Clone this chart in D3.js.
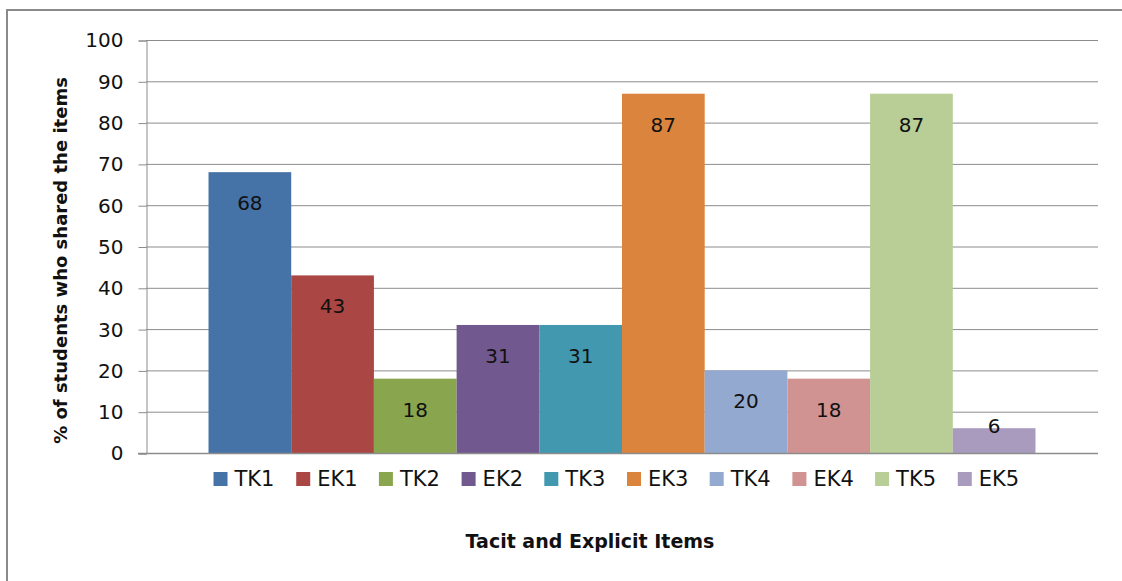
<!DOCTYPE html>
<html>
<head>
<meta charset="utf-8">
<script src="https://cdn.jsdelivr.net/npm/d3@7"></script>
<style>
  html, body { margin: 0; padding: 0; background: #fff; }
  svg { display: block; }
  text { font-family: "DejaVu Sans", "Liberation Sans", sans-serif; fill: #111; }
</style>
</head>
<body>
<svg id="chart" width="1122" height="581"></svg>
<script>
// Share of students (%) per tacit (TK) and explicit (EK) knowledge item
const items  = ["TK1", "EK1", "TK2", "EK2", "TK3", "EK3", "TK4", "EK4", "TK5", "EK5"];
const values = [68, 43, 18, 31, 31, 87, 20, 18, 87, 6];
const colors = ["#4572A7", "#AA4643", "#89A54E", "#71588F", "#4198AF",
                "#DB843D", "#93A9CF", "#D19392", "#B9CD96", "#A99BBD"];
const yTicks = [0, 10, 20, 30, 40, 50, 60, 70, 80, 90, 100];
const yTitle = "% of students who shared the items";
const xTitle = "Tacit and Explicit Items";

const svg = d3.select("#chart");
const W = 1122, H = 581;
const plot = { left: 146, right: 1098, top: 40, bottom: 453 };

// chart frame
svg.append("path")
  .attr("d", `M7,${H + 5} L7,10 L${W + 5},10`)
  .attr("fill", "none")
  .attr("stroke", "#8a8a8a")
  .attr("stroke-width", 2);

const x = d3.scaleBand()
  .domain(items)
  .range([plot.left, plot.right])
  .paddingInner(0)
  .paddingOuter(0.756);

const y = d3.scaleLinear()
  .domain([0, 100])
  .range([plot.bottom, plot.top]);

// gridlines
svg.append("g")
  .selectAll("line")
  .data(yTicks.filter(t => t > 0))
  .join("line")
  .attr("x1", plot.left).attr("x2", plot.right)
  .attr("y1", d => y(d) + 0.5).attr("y2", d => y(d) + 0.5)
  .attr("stroke", "#8c8c8c")
  .attr("stroke-width", 1);

// y axis
const yAxis = svg.append("g")
  .attr("transform", `translate(${plot.left + 0.5},0.5)`)
  .call(d3.axisLeft(y).tickValues(yTicks).tickSize(8).tickPadding(15).tickFormat(d3.format("d")));
yAxis.select(".domain").attr("stroke", "#8c8c8c");
yAxis.selectAll(".tick line").attr("stroke", "#8c8c8c");
yAxis.selectAll(".tick text")
  .attr("font-size", 20)
  .attr("font-family", "DejaVu Sans, sans-serif")
  .attr("fill", "#111");

// bars
svg.append("g")
  .selectAll("rect")
  .data(items)
  .join("rect")
  .attr("x", d => x(d))
  .attr("y", (d, i) => y(values[i]))
  .attr("width", x.bandwidth())
  .attr("height", (d, i) => y(0) - y(values[i]))
  .attr("fill", (d, i) => colors[i]);

// x axis baseline
svg.append("line")
  .attr("x1", plot.left - 8).attr("x2", plot.right)
  .attr("y1", y(0) + 0.5).attr("y2", y(0) + 0.5)
  .attr("stroke", "#8c8c8c")
  .attr("stroke-width", 1.5);

// value labels, placed at the inside end of each bar
svg.append("g")
  .selectAll("text")
  .data(items)
  .join("text")
  .attr("x", d => x(d) + x.bandwidth() / 2)
  .attr("y", (d, i) => Math.min(y(values[i]) + 31, y(0) - 27))
  .attr("text-anchor", "middle")
  .attr("dominant-baseline", "central")
  .attr("font-size", 20)
  .text((d, i) => values[i]);

// legend
const legend = svg.append("g")
  .selectAll("g")
  .data(items)
  .join("g")
  .attr("transform", d => `translate(${x(d) + 5},472)`);
legend.append("rect")
  .attr("width", 14).attr("height", 14)
  .attr("fill", (d, i) => colors[i]);
legend.append("text")
  .attr("x", 21).attr("y", 7)
  .attr("dominant-baseline", "central")
  .attr("font-size", 21)
  .text(d => d);

// axis titles
svg.append("text")
  .attr("transform", `translate(60,${(plot.top + plot.bottom) / 2 + 14}) rotate(-90)`)
  .attr("text-anchor", "middle")
  .attr("dominant-baseline", "central")
  .attr("font-size", 18)
  .attr("font-weight", "bold")
  .text(yTitle);

svg.append("text")
  .attr("x", 590).attr("y", 541)
  .attr("text-anchor", "middle")
  .attr("dominant-baseline", "central")
  .attr("font-size", 19)
  .attr("font-weight", "bold")
  .text(xTitle);
</script>
</body>
</html>
